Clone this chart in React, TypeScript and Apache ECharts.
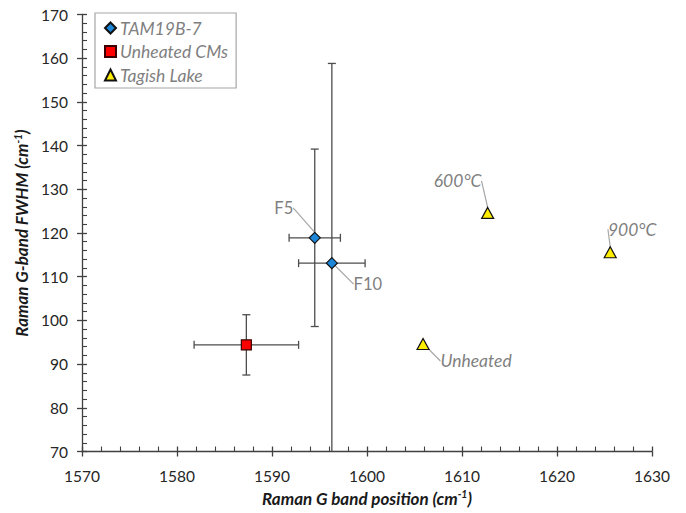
import React, { useEffect, useRef } from "react";
import * as echarts from "echarts";

// ---- data ----
const tamNames = ["F5", "F10"];
const tamX = [1594.5, 1596.3];
const tamY = [118.9, 113.1];
const tamXErr = [2.7, 3.5];
const tamYErr = [20.3, 45.7];

const cmNames = ["Unheated CMs"];
const cmX = [1587.3];
const cmY = [94.4];
const cmXErr = [5.5];
const cmYErr = [6.9];

const tagishNames = ["Unheated", "600°C", "900°C"];
const tagishX = [1605.9, 1612.7, 1625.6];
const tagishY = [94.6, 124.6, 115.6];

const xTicks = [1570, 1580, 1590, 1600, 1610, 1620, 1630];
const yTicks = [70, 80, 90, 100, 110, 120, 130, 140, 150, 160, 170];

// label offsets (style)
const tamLabelOffsets = [
  [-31, -30],
  [36, 21],
];
const tagishLabelOffsets = [
  [53, 17],
  [-30, -32],
  [22, -23],
];

const FONT = "Lato, 'Open Sans', sans-serif";
const AXIS_COLOR = "#404040";
const LABEL_GRAY = "#7f7f7f";

export default function App() {
  const ref = useRef<HTMLDivElement>(null);

  useEffect(() => {
    if (!ref.current) return;
    const chart = echarts.init(ref.current, undefined, { renderer: "svg" });

    const errData: number[][] = [];
    tamX.forEach((x, i) =>
      errData.push([x, tamY[i], x - tamXErr[i], x + tamXErr[i], tamY[i] - tamYErr[i], tamY[i] + tamYErr[i]])
    );
    cmX.forEach((x, i) =>
      errData.push([x, cmY[i], x - cmXErr[i], x + cmXErr[i], cmY[i] - cmYErr[i], cmY[i] + cmYErr[i]])
    );

    const cap = 4;
    const errStyle = { stroke: "#4d4d4d", lineWidth: 1.3 };

    const renderItem = (params: any, api: any) => {
      const x = api.value(0);
      const y = api.value(1);
      const c = api.coord([x, y]);
      const pxl = api.coord([api.value(2), y]);
      const pxh = api.coord([api.value(3), y]);
      const pyl = api.coord([x, api.value(4)]);
      const pyh = api.coord([x, api.value(5)]);
      const cs = params.coordSys;
      const top = cs.y;
      const bottom = cs.y + cs.height;
      const children: any[] = [];
      const line = (x1: number, y1: number, x2: number, y2: number) =>
        children.push({ type: "line", shape: { x1, y1, x2, y2 }, style: errStyle });
      line(pxl[0], c[1], pxh[0], c[1]);
      line(pxl[0], c[1] - cap, pxl[0], c[1] + cap);
      line(pxh[0], c[1] - cap, pxh[0], c[1] + cap);
      let yl = pyl[1];
      let yh = pyh[1];
      const lowClipped = yl > bottom;
      const highClipped = yh < top;
      if (lowClipped) yl = bottom;
      if (highClipped) yh = top;
      line(c[0], yl, c[0], yh);
      if (!lowClipped) line(c[0] - cap, yl, c[0] + cap, yl);
      if (!highClipped) line(c[0] - cap, yh, c[0] + cap, yh);
      return { type: "group", children };
    };

    const labelBase = {
      show: true,
      position: "inside" as const,
      color: LABEL_GRAY,
      fontFamily: FONT,
      fontSize: 16.5,
      formatter: (p: any) => p.name,
    };
    const labelLineBase = {
      show: true,
      lineStyle: { color: "#a6a6a6", width: 1.2 },
    };

    const commonX = {
      type: "value" as const,
      min: xTicks[0],
      max: xTicks[xTicks.length - 1],
      interval: xTicks[1] - xTicks[0],
      splitLine: { show: false },
    };
    const commonY = {
      type: "value" as const,
      min: yTicks[0],
      max: yTicks[yTicks.length - 1],
      interval: yTicks[1] - yTicks[0],
      splitLine: { show: false },
    };

    const nameRich = {
      a: { fontFamily: FONT, fontSize: 17, fontWeight: "bold", fontStyle: "italic", color: "#1a1a1a" },
      s: {
        fontFamily: FONT,
        fontSize: 10.5,
        fontWeight: "bold",
        fontStyle: "italic",
        color: "#1a1a1a",
        padding: [0, 0, 8, 0],
      },
    };

    chart.setOption({
      animation: false,
      backgroundColor: "#ffffff",
      grid: { left: 82, right: 34, top: 14.5, bottom: 61.5, containLabel: false },
      legend: {
        orient: "vertical",
        left: 95,
        top: 13,
        width: 139,
        padding: [6, 8, 4, 9],
        itemGap: 5.5,
        itemWidth: 11,
        itemHeight: 11,
        borderColor: "#a6a6a6",
        borderWidth: 1.2,
        borderRadius: 0,
        data: ["TAM19B-7", "Unheated CMs", "Tagish Lake"],
        textStyle: {
          fontFamily: FONT,
          fontStyle: "italic",
          fontSize: 17.5,
          color: LABEL_GRAY,
          lineHeight: 17,
          padding: [0, 0, 0, -1],
        },
      },
      xAxis: [
        {
          ...commonX,
          name: "{a|Raman G band position (cm}{s|-1}{a|)}",
          nameLocation: "middle",
          nameGap: 37,
          nameTextStyle: { rich: nameRich },
          axisLine: { show: true, lineStyle: { color: AXIS_COLOR, width: 1.3 } },
          axisTick: { show: true, inside: true, length: 5, lineStyle: { color: AXIS_COLOR, width: 1.3 } },
          minorTick: { show: true, splitNumber: 5, length: 5, lineStyle: { color: AXIS_COLOR, width: 1.1 } },
          axisLabel: {
            fontFamily: FONT,
            fontSize: 15.5,
            color: "#262626",
            margin: 16,
            formatter: (v: number) => String(v),
          },
        },
        {
          ...commonX,
          position: "bottom",
          axisLine: { show: false },
          axisTick: { show: true, inside: false, length: 5, lineStyle: { color: AXIS_COLOR, width: 1.3 } },
          axisLabel: { show: false },
        },
      ],
      yAxis: [
        {
          ...commonY,
          name: "{a|Raman G-band FWHM (cm}{s|-1}{a|)}",
          nameLocation: "middle",
          nameGap: 47,
          nameTextStyle: { rich: nameRich },
          axisLine: { show: true, lineStyle: { color: AXIS_COLOR, width: 1.3 } },
          axisTick: { show: true, inside: true, length: 5, lineStyle: { color: AXIS_COLOR, width: 1.3 } },
          minorTick: { show: true, splitNumber: 5, length: 5, lineStyle: { color: AXIS_COLOR, width: 1.1 } },
          axisLabel: {
            fontFamily: FONT,
            fontSize: 15.5,
            color: "#262626",
            margin: 14,
            formatter: (v: number) => String(v),
          },
        },
        {
          ...commonY,
          position: "left",
          axisLine: { show: false },
          axisTick: { show: true, inside: false, length: 5, lineStyle: { color: AXIS_COLOR, width: 1.3 } },
          axisLabel: { show: false },
        },
      ],
      series: [
        {
          type: "custom",
          name: "errors",
          renderItem,
          data: errData,
          encode: { x: 0, y: 1 },
          z: 1,
          silent: true,
        },
        {
          type: "scatter",
          name: "TAM19B-7",
          symbol: "diamond",
          symbolSize: [11, 11],
          itemStyle: { color: "#1c86d8", borderColor: "#111111", borderWidth: 1.2, opacity: 1 },
          data: tamX.map((x, i) => ({ name: tamNames[i], value: [x, tamY[i]] })),
          label: labelBase,
          labelLine: labelLineBase,
          labelLayout: (p: any) => ({ dx: tamLabelOffsets[p.dataIndex][0], dy: tamLabelOffsets[p.dataIndex][1] }),
          z: 3,
        },
        {
          type: "scatter",
          name: "Unheated CMs",
          symbol: "rect",
          symbolSize: [10, 10],
          itemStyle: { color: "#ff0000", borderColor: "#3a0000", borderWidth: 1.2, opacity: 1 },
          data: cmX.map((x, i) => ({ name: cmNames[i], value: [x, cmY[i]] })),
          z: 3,
        },
        {
          type: "scatter",
          name: "Tagish Lake",
          symbol: "triangle",
          symbolSize: [12, 11],
          itemStyle: { color: "#ffee00", borderColor: "#111111", borderWidth: 1.2, opacity: 1 },
          data: tagishX.map((x, i) => ({ name: tagishNames[i], value: [x, tagishY[i]] })),
          label: { ...labelBase, fontStyle: "italic", fontSize: 17.5 },
          labelLine: labelLineBase,
          labelLayout: (p: any) => ({
            dx: tagishLabelOffsets[p.dataIndex][0],
            dy: tagishLabelOffsets[p.dataIndex][1],
          }),
          z: 3,
        },
      ],
    });

    return () => chart.dispose();
  }, []);

  return <div ref={ref} style={{ width: 686, height: 513, position: "absolute", left: 0, top: 0 }} />;
}
